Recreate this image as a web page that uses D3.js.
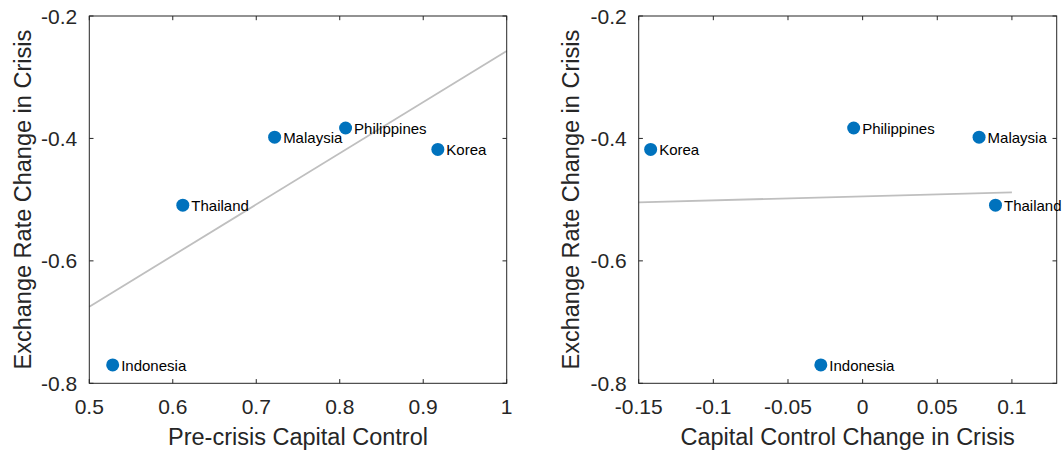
<!DOCTYPE html>
<html>
<head>
<meta charset="utf-8">
<script src="https://cdn.jsdelivr.net/npm/d3@7"></script>
<style>
  body { margin: 0; background: #fff; }
  svg { display: block; font-family: "Liberation Sans", Arial, Helvetica, sans-serif; }
</style>
</head>
<body>
<svg id="chart" width="1062" height="452"></svg>
<script>
// data
var countries = ["Indonesia", "Thailand", "Malaysia", "Philippines", "Korea"];
var rateChange = [-0.770, -0.509, -0.398, -0.383, -0.418];
var preControl = [0.528, 0.612, 0.722, 0.807, 0.9175];
var controlChange = [-0.028, 0.089, 0.078, -0.006, -0.142];

// fitted lines (end points)
var fitLeftX = [0.5, 1];
var fitLeftY = [-0.675, -0.257];
var fitRightX = [-0.15, 0.1];
var fitRightY = [-0.5045, -0.488];

var yTicks = [-0.8, -0.6, -0.4, -0.2];
var leftXTicks = [0.5, 0.6, 0.7, 0.8, 0.9, 1];
var rightXTicks = [-0.15, -0.1, -0.05, 0, 0.05, 0.1];

var axisColor = "#262626";
var dotColor = "#0072BD";
var svg = d3.select("#chart");

function fmt(d) {
  return String(+d.toFixed(4)); // plain hyphen minus like the original
}

function panel(opts) {
  var x = d3.scaleLinear().domain(opts.xDomain).range([opts.left, opts.right]);
  var y = d3.scaleLinear().domain([-0.8, -0.2]).range([383.3, 16]);
  var g = svg.append("g");
  var tl = 4.2;

  // fit line
  var line = d3.line().x(function(d) { return x(d[0]); }).y(function(d) { return y(d[1]); });
  g.append("path")
    .datum(d3.zip(opts.fitX, opts.fitY))
    .attr("d", line)
    .attr("fill", "none").attr("stroke", "#bfbfbf").attr("stroke-width", 1.8);

  // box
  g.append("rect")
    .attr("x", opts.left).attr("y", 16)
    .attr("width", opts.right - opts.left).attr("height", 383.3 - 16)
    .attr("fill", "none").attr("stroke", axisColor).attr("stroke-width", 1);

  // inward ticks on all four sides
  opts.xTicks.forEach(function(t) {
    var px = x(t);
    g.append("line").attr("x1", px).attr("x2", px).attr("y1", 383.3).attr("y2", 383.3 - tl)
      .attr("stroke", axisColor);
    g.append("line").attr("x1", px).attr("x2", px).attr("y1", 16).attr("y2", 16 + tl)
      .attr("stroke", axisColor);
    g.append("text").attr("x", px).attr("y", 413.5)
      .attr("text-anchor", "middle").attr("font-size", 21).attr("fill", axisColor)
      .text(fmt(t));
  });
  yTicks.forEach(function(t) {
    var py = y(t);
    g.append("line").attr("x1", opts.left).attr("x2", opts.left + tl).attr("y1", py).attr("y2", py)
      .attr("stroke", axisColor);
    g.append("line").attr("x1", opts.right).attr("x2", opts.right - tl).attr("y1", py).attr("y2", py)
      .attr("stroke", axisColor);
    g.append("text").attr("x", opts.left - 12).attr("y", py).attr("dy", "0.36em")
      .attr("text-anchor", "end").attr("font-size", 21).attr("fill", axisColor)
      .text(fmt(t));
  });

  // axis labels
  g.append("text")
    .attr("x", (opts.left + opts.right) / 2).attr("y", 445)
    .attr("text-anchor", "middle").attr("font-size", 23.5).attr("fill", axisColor)
    .text(opts.xLabel);
  g.append("text")
    .attr("transform", "translate(" + opts.yLabelX + "," + y(-0.5) + ") rotate(-90)")
    .attr("text-anchor", "middle").attr("font-size", 23.5).attr("fill", axisColor)
    .text("Exchange Rate Change in Crisis");

  // points
  var pts = countries.map(function(c, i) { return { name: c, x: opts.xs[i], y: rateChange[i] }; });
  g.selectAll("circle.pt").data(pts).enter().append("circle")
    .attr("class", "pt")
    .attr("cx", function(d) { return x(d.x); })
    .attr("cy", function(d) { return y(d.y); })
    .attr("r", 6.5)
    .attr("fill", dotColor);
  g.selectAll("text.lbl").data(pts).enter().append("text")
    .attr("class", "lbl")
    .attr("x", function(d) { return x(d.x) + 8.5; })
    .attr("y", function(d) { return y(d.y); })
    .attr("dy", "0.38em")
    .attr("font-size", 15).attr("fill", "#000")
    .text(function(d) { return d.name; });
}

panel({
  left: 89.3, right: 506.7, xDomain: [0.5, 1],
  xTicks: leftXTicks, xs: preControl,
  fitX: fitLeftX, fitY: fitLeftY,
  xLabel: "Pre-crisis Capital Control", yLabelX: 30.5
});

panel({
  left: 638.7, right: 1056.7, xDomain: [-0.15, 0.13],
  xTicks: rightXTicks, xs: controlChange,
  fitX: fitRightX, fitY: fitRightY,
  xLabel: "Capital Control Change in Crisis", yLabelX: 579
});
</script>
</body>
</html>
